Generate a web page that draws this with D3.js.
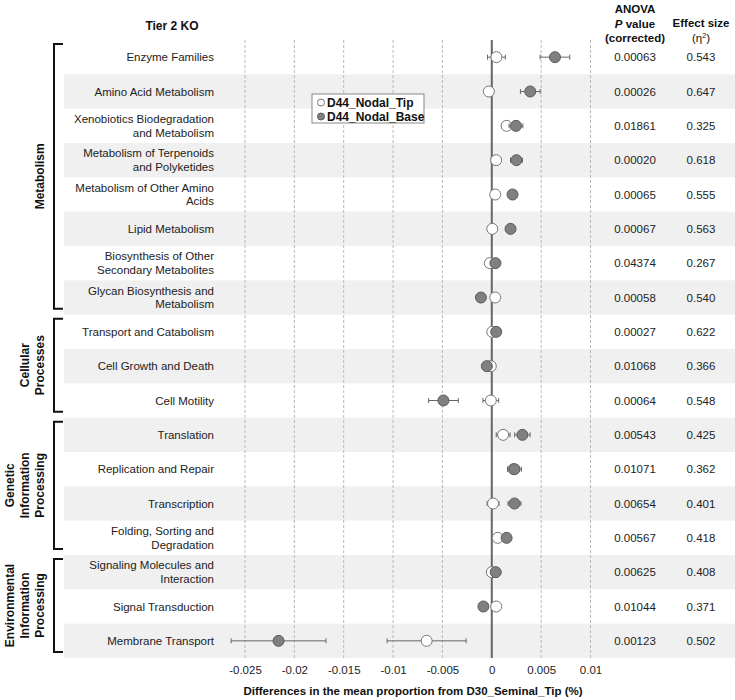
<!DOCTYPE html>
<html>
<head>
<meta charset="utf-8">
<script src="https://cdn.jsdelivr.net/npm/d3@7"></script>
<style>
  body { margin: 0; background: #fff; }
  svg { display: block; font-family: "Liberation Sans", Arial, sans-serif; }
</style>
</head>
<body>
<svg id="chart" width="735" height="700"></svg>
<script>
// ---------------- DATA ----------------
const categories = [
  "Enzyme Families",
  "Amino Acid Metabolism",
  "Xenobiotics Biodegradation|and Metabolism",
  "Metabolism of Terpenoids|and Polyketides",
  "Metabolism of Other Amino|Acids",
  "Lipid Metabolism",
  "Biosynthesis of Other|Secondary Metabolites",
  "Glycan Biosynthesis and|Metabolism",
  "Transport and Catabolism",
  "Cell Growth and Death",
  "Cell Motility",
  "Translation",
  "Replication and Repair",
  "Transcription",
  "Folding, Sorting and|Degradation",
  "Signaling Molecules and|Interaction",
  "Signal Transduction",
  "Membrane Transport"
];
const groupNames = [
  "Metabolism",
  "Cellular|Processes",
  "Genetic|Information|Processing",
  "Environmental|Information|Processing"
];
const groupStart = [0, 8, 11, 15];
const groupEnd   = [7, 10, 14, 17];

const seriesNames = ["D44_Nodal_Tip", "D44_Nodal_Base"];
const tipMean  = [0.00047, -0.0003, 0.0015, 0.00044, 0.00035, 0.00005, -0.0002, 0.00035, 0.00005, -0.0001, -0.0001, 0.00115, 0.0022, 0.00013, 0.0006, 0.0000, 0.00045, -0.0066];
const tipErr   = [0.0009, 0.0002, 0.0005, 0.0002, 0.0002, 0.0002, 0.0002, 0.0002, 0.0002, 0.0002, 0.0008, 0.0007, 0.0006, 0.0006, 0.0002, 0.0002, 0.0002, 0.0040];
const baseMean = [0.0064, 0.0039, 0.00245, 0.0025, 0.0021, 0.0019, 0.00037, -0.0011, 0.00045, -0.0005, -0.0049, 0.0031, 0.0023, 0.0023, 0.0015, 0.0004, -0.00085, -0.0216];
const baseErr  = [0.0015, 0.001, 0.0007, 0.0006, 0.0003, 0.0003, 0.0002, 0.0002, 0.0002, 0.0002, 0.0015, 0.00078, 0.0007, 0.00065, 0.0002, 0.0002, 0.0004, 0.0048];
const pValues  = ["0.00063","0.00026","0.01861","0.00020","0.00065","0.00067","0.04374","0.00058","0.00027","0.01068","0.00064","0.00543","0.01071","0.00654","0.00567","0.00625","0.01044","0.00123"];
const effectSizes = ["0.543","0.647","0.325","0.618","0.555","0.563","0.267","0.540","0.622","0.366","0.548","0.425","0.362","0.401","0.418","0.408","0.371","0.502"];
const xTicks = [-0.025, -0.02, -0.015, -0.01, -0.005, 0, 0.005, 0.01];

// ---------------- LAYOUT ----------------
const svg = d3.select("#chart");
const plotTop = 40, plotBottom = 658;
const x = d3.scaleLinear().domain([-0.025, 0.01]).range([245, 590.5]);
const y = d3.scaleBand().domain(d3.range(categories.length)).range([plotTop, plotBottom]);
const fs = 11.5;

// Row bands
svg.append("g").selectAll("rect")
  .data(d3.range(categories.length).filter(i => i % 2 === 1))
  .join("rect")
  .attr("x", 64).attr("width", 735 - 64)
  .attr("y", i => y(i)).attr("height", y.bandwidth())
  .attr("fill", "#f0f0f0");

// Gridlines
svg.append("g").selectAll("line")
  .data(xTicks.filter(t => t !== 0))
  .join("line")
  .attr("x1", d => x(d)).attr("x2", d => x(d))
  .attr("y1", plotTop).attr("y2", plotBottom)
  .attr("stroke", "#b8b8b8").attr("stroke-width", 1)
  .attr("stroke-dasharray", "3,2");

// Zero line
svg.append("line")
  .attr("x1", x(0)).attr("x2", x(0))
  .attr("y1", plotTop).attr("y2", plotBottom)
  .attr("stroke", "#666").attr("stroke-width", 2);

// Category labels
const catG = svg.append("g");
categories.forEach((c, i) => {
  const lines = c.split("|");
  const cy = y(i) + y.bandwidth() / 2;
  const t = catG.append("text")
    .attr("text-anchor", "end")
    .attr("font-size", fs).attr("fill", "#222");
  lines.forEach((ln, j) => {
    t.append("tspan")
      .attr("x", 214)
      .attr("y", cy + (j - (lines.length - 1) / 2) * 13.5)
      .attr("dy", "0.35em")
      .text(ln);
  });
});

// Group brackets and labels
const grpG = svg.append("g");
groupNames.forEach((g, k) => {
  const y0 = y(groupStart[k]) + 4;
  const y1 = y(groupEnd[k]) + y.bandwidth() - 6;
  grpG.append("path")
    .attr("d", `M63,${y0} H54 V${y1} H63`)
    .attr("fill", "none").attr("stroke", "#111").attr("stroke-width", 2);
  const lines = g.split("|");
  const cy = (y0 + y1) / 2;
  const n = lines.length;
  lines.forEach((ln, j) => {
    const lx = 40 - (n - 1 - j) * 15;
    grpG.append("text")
      .attr("transform", `translate(${lx},${cy}) rotate(-90)`)
      .attr("text-anchor", "middle").attr("dy", "0.35em")
      .attr("font-size", 12).attr("font-weight", "bold").attr("fill", "#111")
      .text(ln);
  });
});

// Error bars and points
const series = [
  { mean: tipMean, err: tipErr, fill: "#ffffff", stroke: "#777" },
  { mean: baseMean, err: baseErr, fill: "#808080", stroke: "#5a5a5a" }
];
const ptsG = svg.append("g");
series.forEach(s => {
  const idx = d3.range(categories.length);
  const cy = i => y(i) + y.bandwidth() / 2;
  const eg = ptsG.append("g").attr("stroke", "#666").attr("stroke-width", 1);
  eg.selectAll("line.h").data(idx).join("line").attr("class", "h")
    .attr("x1", i => x(s.mean[i] - s.err[i])).attr("x2", i => x(s.mean[i] + s.err[i]))
    .attr("y1", cy).attr("y2", cy);
  eg.selectAll("line.cl").data(idx).join("line").attr("class", "cl")
    .attr("x1", i => x(s.mean[i] - s.err[i])).attr("x2", i => x(s.mean[i] - s.err[i]))
    .attr("y1", i => cy(i) - 2.5).attr("y2", i => cy(i) + 2.5);
  eg.selectAll("line.cr").data(idx).join("line").attr("class", "cr")
    .attr("x1", i => x(s.mean[i] + s.err[i])).attr("x2", i => x(s.mean[i] + s.err[i]))
    .attr("y1", i => cy(i) - 2.5).attr("y2", i => cy(i) + 2.5);
  ptsG.append("g").selectAll("circle").data(idx).join("circle")
    .attr("cx", i => x(s.mean[i])).attr("cy", cy).attr("r", 5.5)
    .attr("fill", s.fill).attr("stroke", s.stroke).attr("stroke-width", 1);
});

// X axis
const axis = d3.axisBottom(x).tickValues(xTicks).tickSize(0).tickPadding(0)
  .tickFormat(d => d === 0 ? "0" : String(+d.toFixed(3)));
const ax = svg.append("g").attr("transform", `translate(0,${plotBottom + 8})`).call(axis);
ax.select(".domain").remove();
ax.selectAll("text").attr("font-size", fs).attr("fill", "#222")
  .attr("font-family", "Liberation Sans, Arial, sans-serif");

svg.append("text")
  .attr("x", 413).attr("y", 695).attr("text-anchor", "middle")
  .attr("font-size", fs).attr("font-weight", "bold").attr("fill", "#111")
  .text("Differences in the mean proportion from D30_Seminal_Tip (%)");

// Headers
svg.append("text").attr("x", 172).attr("y", 30).attr("text-anchor", "middle")
  .attr("font-size", 12).attr("font-weight", "bold").attr("fill", "#111").text("Tier 2 KO");
const h1 = svg.append("text").attr("text-anchor", "middle")
  .attr("font-size", fs).attr("font-weight", "bold").attr("fill", "#111");
h1.append("tspan").attr("x", 635).attr("y", 13).text("ANOVA");
const pl = h1.append("tspan").attr("x", 635).attr("y", 28);
pl.append("tspan").attr("font-style", "italic").text("P");
pl.append("tspan").text(" value");
h1.append("tspan").attr("x", 635).attr("y", 42).text("(corrected)");
const h2 = svg.append("text").attr("text-anchor", "middle")
  .attr("font-size", fs).attr("font-weight", "bold").attr("fill", "#111");
h2.append("tspan").attr("x", 701).attr("y", 27).text("Effect size");
const eta = h2.append("tspan").attr("x", 701).attr("y", 42).attr("font-weight", "normal");
eta.append("tspan").text("(η");
eta.append("tspan").attr("font-size", 7).attr("dy", -4).text("2");
eta.append("tspan").attr("dy", 4).text(")");

// Value columns
svg.append("g").selectAll("text").data(pValues).join("text")
  .attr("x", 635).attr("y", (d, i) => y(i) + y.bandwidth() / 2).attr("dy", "0.35em")
  .attr("text-anchor", "middle").attr("font-size", fs).attr("fill", "#222").text(d => d);
svg.append("g").selectAll("text").data(effectSizes).join("text")
  .attr("x", 701).attr("y", (d, i) => y(i) + y.bandwidth() / 2).attr("dy", "0.35em")
  .attr("text-anchor", "middle").attr("font-size", fs).attr("fill", "#222").text(d => d);

// Legend
const lg = svg.append("g").attr("transform", "translate(312,94)");
lg.append("rect").attr("width", 112).attr("height", 29)
  .attr("fill", "#fff").attr("stroke", "#888").attr("stroke-width", 1);
seriesNames.forEach((n, i) => {
  lg.append("circle").attr("cx", 9).attr("cy", 8.5 + i * 14).attr("r", 3.5)
    .attr("fill", series[i].fill).attr("stroke", series[i].stroke);
  lg.append("text").attr("x", 15).attr("y", 8.5 + i * 14).attr("dy", "0.35em")
    .attr("font-size", 12).attr("font-weight", "bold").attr("fill", "#111").text(n);
});
</script>
</body>
</html>
